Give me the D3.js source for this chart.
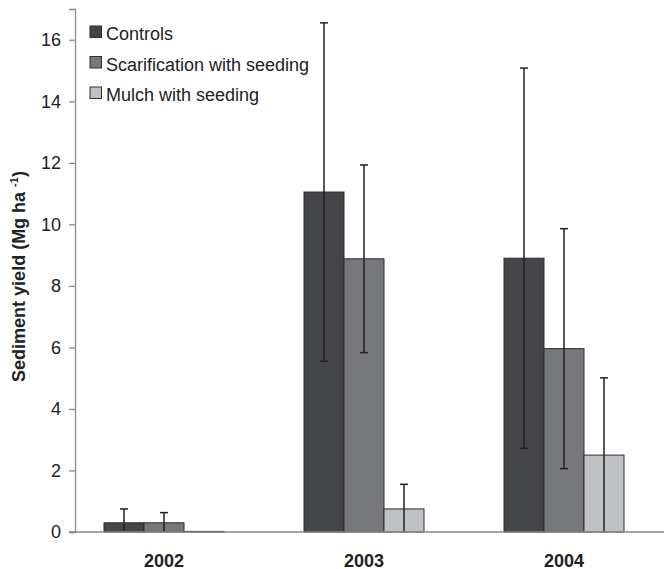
<!doctype html>
<html lang="en">
<head>
  <meta charset="utf-8">
  <title>Sediment yield</title>
  <style>
    body { margin: 0; background: #fff; }
    text { font-family: "Liberation Sans", Arial, sans-serif; fill: #222; }
    .axis-line { stroke: #8a8a8a; stroke-width: 1.3; }
    .bar { stroke: #2e2e2e; stroke-width: 1; }
    .err { stroke: #222; stroke-width: 1.5; }
  </style>
</head>
<body>
  <div id="chart"></div>
  <script src="https://d3js.org/d3.v7.min.js"></script>
  <script>
    // data
    const years = ['2002', '2003', '2004'];
    const treatments = ['Controls', 'Scarification with seeding', 'Mulch with seeding'];
    const colors = ['#444548', '#77787c', '#c0c1c5'];
    // mean per treatment, one value per year
    const means = [
      [0.30, 11.05, 8.90],
      [0.30, 8.88, 5.96],
      [0.02, 0.75, 2.50]
    ];
    // standard error per treatment, one value per year
    const errors = [
      [0.45, 5.50, 6.18],
      [0.33, 3.05, 3.90],
      [0.00, 0.80, 2.51]
    ];
    const yTicks = [0, 2, 4, 6, 8, 10, 12, 14, 16];

    const width = 664, height = 569;
    const margin = { top: 9, bottom: 37, left: 75 };

    const svg = d3.select('#chart').append('svg')
      .attr('width', width)
      .attr('height', height);

    const y = d3.scaleLinear()
      .domain([0, 17])
      .range([height - margin.bottom, margin.top]);

    const x = d3.scaleBand()
      .domain(years)
      .range([64, width])
      .padding(0);

    const xInner = d3.scaleBand()
      .domain(treatments)
      .range([0, x.bandwidth()])
      .paddingInner(0)
      .paddingOuter(1);

    // y axis
    const yAxis = svg.append('g')
      .attr('transform', `translate(${margin.left},0)`)
      .call(d3.axisLeft(y).tickValues(yTicks).tickSize(6).tickPadding(8));
    yAxis.select('.domain').attr('class', 'axis-line').attr('fill', 'none');
    yAxis.selectAll('.tick line').attr('stroke', '#8a8a8a').attr('stroke-width', 1.3);
    yAxis.selectAll('.tick text')
      .attr('font-size', 18)
      .attr('fill', '#222')
      .attr('font-family', '"Liberation Sans", Arial, sans-serif');

    // bars
    const rows = [];
    treatments.forEach((t, i) => {
      years.forEach((yr, j) => {
        rows.push({ t, i, yr, v: means[i][j], e: errors[i][j] });
      });
    });

    svg.append('g')
      .selectAll('rect')
      .data(rows)
      .join('rect')
      .attr('class', 'bar')
      .attr('x', d => x(d.yr) + xInner(d.t))
      .attr('width', xInner.bandwidth())
      .attr('y', d => y(d.v))
      .attr('height', d => y(0) - y(d.v))
      .attr('fill', d => colors[d.i]);

    // error bars (lower end clipped at zero)
    const cx = d => x(d.yr) + xInner(d.t) + xInner.bandwidth() / 2;
    const errRows = rows.filter(d => d.e > 0);
    const eg = svg.append('g');
    eg.selectAll('line.v')
      .data(errRows)
      .join('line')
      .attr('class', 'err v')
      .attr('x1', cx)
      .attr('x2', cx)
      .attr('y1', d => y(d.v + d.e))
      .attr('y2', d => y(Math.max(0, d.v - d.e)));
    eg.selectAll('line.top')
      .data(errRows)
      .join('line')
      .attr('class', 'err top')
      .attr('x1', d => cx(d) - 4)
      .attr('x2', d => cx(d) + 4)
      .attr('y1', d => y(d.v + d.e))
      .attr('y2', d => y(d.v + d.e));
    eg.selectAll('line.bot')
      .data(errRows.filter(d => d.v - d.e > 0))
      .join('line')
      .attr('class', 'err bot')
      .attr('x1', d => cx(d) - 4)
      .attr('x2', d => cx(d) + 4)
      .attr('y1', d => y(d.v - d.e))
      .attr('y2', d => y(d.v - d.e));

    // x axis line
    svg.append('line')
      .attr('class', 'axis-line')
      .attr('x1', margin.left - 6)
      .attr('x2', width)
      .attr('y1', y(0))
      .attr('y2', y(0));

    // year labels
    svg.append('g')
      .selectAll('text')
      .data(years)
      .join('text')
      .attr('x', d => x(d) + x.bandwidth() / 2)
      .attr('y', height - 2.5)
      .attr('text-anchor', 'middle')
      .attr('font-size', 18)
      .attr('font-weight', 'bold')
      .text(d => d);

    // y axis title
    const title = svg.append('text')
      .attr('transform', `translate(25,${(y(0) + y(17)) / 2 + 6}) rotate(-90)`)
      .attr('text-anchor', 'middle')
      .attr('font-size', 18)
      .attr('font-weight', 'bold');
    title.append('tspan').text('Sediment yield (Mg ha ');
    title.append('tspan').attr('font-size', 11).attr('dy', -7).text('-1');
    title.append('tspan').attr('dy', 7).text(')');

    // legend
    const legend = svg.append('g')
      .selectAll('g')
      .data(treatments)
      .join('g')
      .attr('transform', (d, i) => `translate(90,${26 + i * 30.5})`);
    legend.append('rect')
      .attr('width', 11.5)
      .attr('height', 11.5)
      .attr('fill', (d, i) => colors[i])
      .attr('stroke', '#2e2e2e')
      .attr('stroke-width', 1);
    legend.append('text')
      .attr('x', 16)
      .attr('y', 14)
      .attr('font-size', 18)
      .text(d => d);
  </script>
</body>
</html>
